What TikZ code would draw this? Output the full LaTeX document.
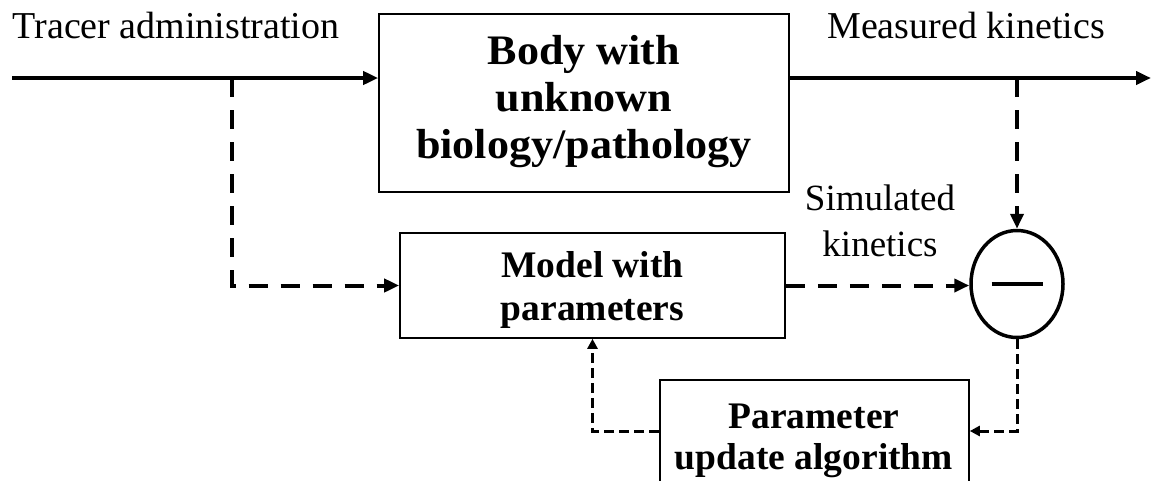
\documentclass[tikz,border=0pt]{standalone}
\usepackage{fontspec}
\setmainfont{Liberation Serif}
\usetikzlibrary{arrows.meta,shapes.geometric}
\begin{document}
\begin{tikzpicture}[x=1pt,y=-1pt,
  boxshape/.style={draw,line width=1.6pt,inner sep=0pt,rectangle},
  plain/.style={inner sep=0pt,align=center,font=\fontsize{38}{46}\selectfont},
  boldtxt/.style={inner sep=0pt,align=center,font=\bfseries\fontsize{37.5}{43}\selectfont},
  solidline/.style={line width=4pt},
  dashthick/.style={line width=4pt,dash pattern=on 19pt off 13pt},
  dashthin/.style={line width=3pt,dash pattern=on 10pt off 5pt},
  bigtip/.style={-{Triangle[length=15pt,width=13pt]}},
  smalltip/.style={-{Triangle[length=10pt,width=10pt]}}
]
\useasboundingbox (0,0) rectangle (1151,480);

% boxes
\node[boxshape,minimum width=410pt,minimum height=178pt] (body) at (584,103) {};
\node[boxshape,minimum width=385pt,minimum height=105pt] (model) at (592.5,285.5) {};
\node[boxshape,minimum width=309pt,minimum height=122pt] (param) at (814.5,441) {};
\node[draw,ellipse,line width=3.5pt,inner sep=0pt,minimum width=92pt,minimum height=107pt] (diff) at (1017,284) {\rule[-2pt]{51pt}{4pt}};

% texts
\node[boldtxt,font=\bfseries\fontsize{42}{47}\selectfont] (bodyT) at (584,101.4)
  {\scalebox{1.05}[1]{Body with}\\\scalebox{1.05}[1]{unknown}\\\scalebox{1.05}[1]{biology/pathology}};
\node[boldtxt] (modelT) at (592.5,289.9) {Model with\\parameters};
\node[boldtxt,font=\bfseries\fontsize{37.5}{41}\selectfont] (paramT) at (814,441.2) {Parameter\\update algorithm};
\node[plain,anchor=base] (tracer) at (176,38) {Tracer administration};
\node[plain,anchor=base] (measured) at (966,38) {Measured kinetics};
\node[plain,font=\fontsize{37}{46}\selectfont] (sim) at (880,221) {Simulated\\kinetics};

% coordinates
\coordinate (start) at (12,78);
\coordinate (finish) at (1151,78);
\coordinate (tr) at (232,78);
\coordinate (mk) at (1017,78);
\coordinate (fb) at (0,431);

% main line
\draw[solidline,bigtip] (start) -- (start -| body.west);
\draw[solidline,bigtip] (start -| body.east) -- (finish);

% dashed
\draw[dashthick,bigtip] (tr) -- (tr |- model.west) -- (model.west);
\draw[dashthick,bigtip] (model.east) -- (model.east -| diff.west);
\draw[dashthick,bigtip] (mk) -- (diff.north);

% feedback
\draw[dashthin,smalltip] (diff.south) -- (diff.south |- fb) -- (param.east |- fb);
\draw[dashthin,smalltip] (param.west |- fb) -| (model.south);
\end{tikzpicture}
\end{document}
